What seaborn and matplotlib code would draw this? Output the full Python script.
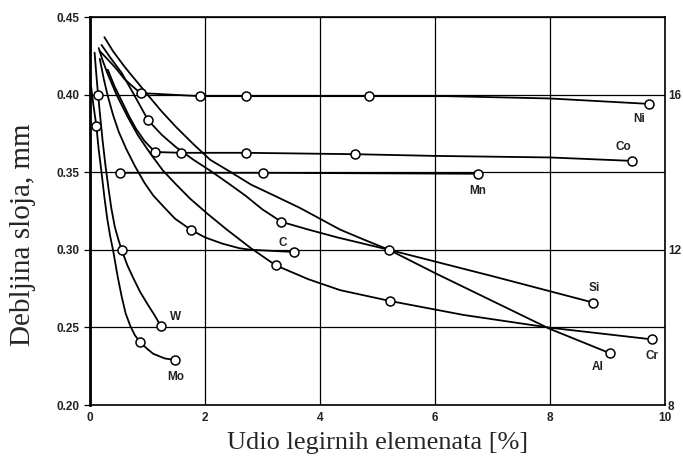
import numpy as np
import pandas as pd
import seaborn as sns
import matplotlib.pyplot as plt

# krivulje ocitane sa slike (udio %, debljina mm)
ni_x = [0.17, 0.3, 0.45, 0.6, 0.75, 0.88, 1.91, 2.71, 4.86, 6.2, 8.0, 9.73]
ni_y = [0.428, 0.423, 0.417, 0.41, 0.405, 0.401, 0.399, 0.399, 0.399, 0.399, 0.3975, 0.394]
co_x = [0.31, 0.43, 0.55, 0.68, 0.8, 0.95, 1.13, 1.59, 2.71, 4.6, 6.0, 8.0, 9.42]
co_y = [0.416, 0.405, 0.396, 0.386, 0.378, 0.37, 0.363, 0.3625, 0.3625, 0.3616, 0.3605,
        0.3595, 0.3573]
mn_x = [0.52, 3.0, 6.74]
mn_y = [0.3496, 0.3496, 0.349]
si_x = [0.2, 0.35, 0.55, 0.75, 1.01, 1.25, 1.5, 1.8, 2.09, 2.4, 2.7, 3.0, 3.33, 3.8,
        4.3, 4.75, 5.2, 7.0, 8.75]
si_y = [0.432, 0.424, 0.414, 0.401, 0.3835, 0.374, 0.366, 0.358, 0.351, 0.343, 0.335,
        0.326, 0.318, 0.313, 0.308, 0.304, 0.30, 0.283, 0.266]
al_x = [0.25, 0.4, 0.6, 0.8, 1.0, 1.25, 1.5, 1.8, 2.09, 2.45, 2.8, 3.2, 3.65, 4.0,
        4.35, 4.8, 5.2, 6.0, 7.0, 8.0, 9.04]
al_y = [0.437, 0.428, 0.418, 0.409, 0.40, 0.389, 0.379, 0.368, 0.358, 0.35, 0.342,
        0.335, 0.327, 0.32, 0.313, 0.306, 0.30, 0.285, 0.267, 0.249, 0.2334]
cr_x = [0.15, 0.22, 0.3, 0.46, 0.65, 0.83, 1.05, 1.27, 1.5, 1.74, 2.05, 2.38, 2.8,
        3.23, 3.8, 4.35, 5.22, 6.5, 8.0, 9.77]
cr_y = [0.43, 0.422, 0.414, 0.40, 0.386, 0.374, 0.362, 0.351, 0.342, 0.333, 0.323,
        0.313, 0.301, 0.29, 0.281, 0.274, 0.267, 0.258, 0.2498, 0.2423]
c_x = [0.17, 0.24, 0.31, 0.4, 0.5, 0.63, 0.78, 0.95, 1.1, 1.3, 1.48, 1.75, 2.0, 2.3,
       2.6, 2.8, 3.55]
c_y = [0.423, 0.41, 0.399, 0.387, 0.376, 0.365, 0.354, 0.343, 0.335, 0.327, 0.32,
       0.313, 0.308, 0.304, 0.301, 0.30, 0.2986]
w_x = [0.08, 0.11, 0.14, 0.18, 0.22, 0.27, 0.32, 0.37, 0.43, 0.49, 0.55, 0.65, 0.75,
       0.87, 1.0, 1.12, 1.23]
w_y = [0.427, 0.413, 0.40, 0.385, 0.37, 0.354, 0.34, 0.327, 0.315, 0.307, 0.30, 0.29,
       0.282, 0.273, 0.265, 0.258, 0.251]
mo_x = [0.02, 0.06, 0.11, 0.15, 0.2, 0.25, 0.3, 0.35, 0.41, 0.48, 0.55, 0.62, 0.7,
        0.78, 0.87, 1.0, 1.1, 1.3, 1.48]
mo_y = [0.405, 0.393, 0.38, 0.365, 0.35, 0.334, 0.32, 0.309, 0.298, 0.283, 0.27,
        0.259, 0.251, 0.245, 0.2405, 0.236, 0.233, 0.230, 0.229]

# kruzici (mjerne tocke)
pts_x = [0.88, 1.91, 2.71, 4.86, 9.73,
         1.13, 1.59, 2.71, 4.6, 9.42,
         0.52, 3.0, 6.74,
         1.01, 3.33, 5.2, 8.75,
         9.04,
         3.23, 5.22, 9.77,
         1.75, 3.55,
         0.14, 0.55, 1.23,
         0.11, 0.87, 1.48]
pts_y = [0.401, 0.399, 0.399, 0.399, 0.394,
         0.363, 0.3625, 0.3625, 0.3616, 0.3573,
         0.3496, 0.3496, 0.349,
         0.3835, 0.318, 0.30, 0.266,
         0.2334,
         0.29, 0.267, 0.2423,
         0.313, 0.2986,
         0.40, 0.30, 0.251,
         0.38, 0.2405, 0.229]

oznake = ["Ni", "Co", "Mn", "Si", "Al", "Cr", "C", "W", "Mo"]
oznaka_x = [9.55, 9.28, 6.75, 8.77, 8.83, 9.77, 3.35, 1.48, 1.49]
oznaka_y = [0.384, 0.3665, 0.338, 0.2755, 0.2245, 0.2315, 0.3045, 0.2565, 0.218]

curves = {"Ni": (ni_x, ni_y), "Co": (co_x, co_y), "Mn": (mn_x, mn_y),
          "Si": (si_x, si_y), "Al": (al_x, al_y), "Cr": (cr_x, cr_y),
          "C": (c_x, c_y), "W": (w_x, w_y), "Mo": (mo_x, mo_y)}
df = pd.concat([pd.DataFrame({"el": k, "x": v[0], "y": v[1]}) for k, v in curves.items()],
               ignore_index=True)
df_pts = pd.DataFrame({"x": pts_x, "y": pts_y})

sns.set_style("white")
fig = plt.figure(figsize=(6.83, 4.62), dpi=100)
ax = fig.add_axes([90 / 683, 1 - 405 / 462, 575 / 683, 388 / 462])

sns.lineplot(data=df, x="x", y="y", units="el", estimator=None, sort=False,
             color="black", lw=1.3, ax=ax)
sns.scatterplot(data=df_pts, x="x", y="y", marker="o", s=42, color="white",
                edgecolor="black", linewidth=1.1, zorder=5, ax=ax)

for t, xx, yy in zip(oznake, oznaka_x, oznaka_y):
    ax.text(xx, yy, t, fontsize=8.5, fontweight="bold", color="#222222",
            family="Liberation Sans", ha="center", va="center")

ax.set_xlim(0, 10)
ax.set_ylim(0.20, 0.45)
ax.set_xticks([0, 2, 4, 6, 8, 10])
ax.set_yticks([0.20, 0.25, 0.30, 0.35, 0.40, 0.45])
ax.set_yticklabels(["0.20", "0.25", "0.30", "0.35", "0.40", "0.45"])
ax.grid(True, color="black", lw=0.9)
ax.tick_params(axis="both", length=4, width=0.9, color="black", direction="out",
               labelsize=8.5)
ax.tick_params(axis="x", length=0, pad=5)
for lab in ax.get_xticklabels() + ax.get_yticklabels():
    lab.set_fontweight("bold")
    lab.set_family("Liberation Sans")
    lab.set_color("#222222")
for s in ax.spines.values():
    s.set_color("black")
    s.set_linewidth(1.2)
ax.spines["left"].set_linewidth(2)

ax.set_xlabel("Udio legirnih elemenata [%]", family="Liberation Serif", fontsize=19,
              labelpad=6)
ax.set_ylabel("Debljina sloja, mm", family="Liberation Serif", fontsize=21)
ax.yaxis.set_label_coords(-0.094, 0.44)

ax2 = ax.twinx()
ax2.set_ylim(8, 18)
ax2.set_yticks([8, 12, 16])
ax2.tick_params(axis="y", length=0, pad=2, labelsize=8.5)
for lab in ax2.get_yticklabels():
    lab.set_fontweight("bold")
    lab.set_family("Liberation Sans")
    lab.set_color("#222222")
for s in ax2.spines.values():
    s.set_visible(False)

fig.savefig("out.png", dpi=100)
